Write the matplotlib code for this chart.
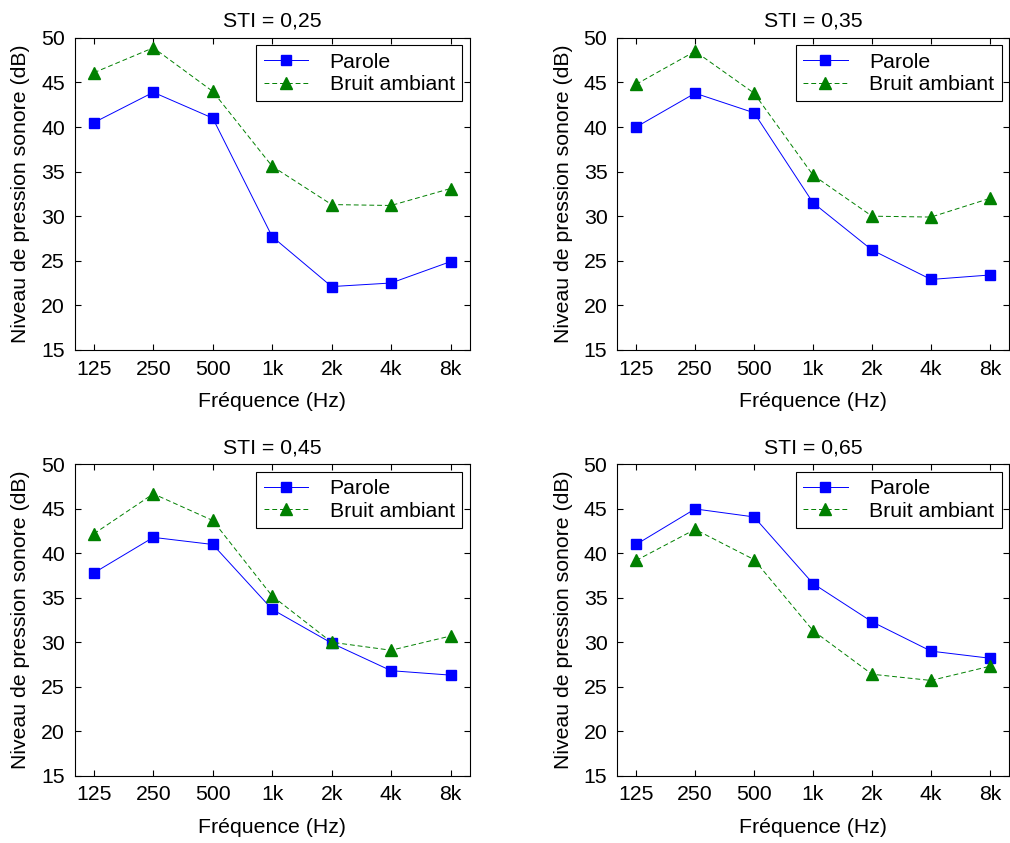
import matplotlib
matplotlib.use("Agg")
import matplotlib.pyplot as plt

plt.rcParams['font.family'] = ['Liberation Sans', 'DejaVu Sans']

# Données
freqs = [125, 250, 500, 1000, 2000, 4000, 8000]
freq_labels = ['125', '250', '500', '1k', '2k', '4k', '8k']
titles = ['STI = 0,25', 'STI = 0,35', 'STI = 0,45', 'STI = 0,65']

parole_025 = [40.5, 43.9, 41.0, 27.7, 22.1, 22.5, 24.9]
bruit_025 = [46.1, 48.9, 44.0, 35.6, 31.3, 31.2, 33.1]

parole_035 = [40.0, 43.8, 41.6, 31.5, 26.2, 22.9, 23.4]
bruit_035 = [44.8, 48.5, 43.8, 34.6, 30.0, 29.9, 32.0]

parole_045 = [37.8, 41.8, 41.0, 33.7, 29.9, 26.8, 26.3]
bruit_045 = [42.2, 46.7, 43.7, 35.2, 30.0, 29.1, 30.7]

parole_065 = [41.0, 45.0, 44.1, 36.6, 32.3, 29.0, 28.2]
bruit_065 = [39.2, 42.7, 39.3, 31.3, 26.4, 25.7, 27.3]

paroles = [parole_025, parole_035, parole_045, parole_065]
bruits = [bruit_025, bruit_035, bruit_045, bruit_065]

fig = plt.figure(figsize=(10.1, 8.43), dpi=100)

# positions des axes [gauche, bas, largeur, hauteur]
positions = [
    [0.074, 0.585, 0.391, 0.370],
    [0.611, 0.585, 0.388, 0.370],
    [0.074, 0.080, 0.391, 0.369],
    [0.611, 0.080, 0.388, 0.369],
]

fs = 15.3

for pos, titre, p, b in zip(positions, titles, paroles, bruits):
    ax = fig.add_axes(pos)
    ax.plot(freqs, p, '-s', color='blue', lw=0.7, markersize=7.8,
            markeredgecolor='blue', label='Parole')
    ax.plot(freqs, b, '--^', color='green', lw=0.7, markersize=8.8,
            markeredgecolor='green', dashes=(5, 3), label='Bruit ambiant')
    ax.set_xscale('log')
    ax.set_xlim(100, 10000)
    ax.set_ylim(15, 50)
    ax.set_xticks(freqs)
    ax.set_xticklabels(freq_labels)
    ax.minorticks_off()
    ax.set_yticks(range(15, 51, 5))
    ax.tick_params(direction='in', top=True, right=True, length=4,
                   labelsize=fs, pad=7)
    ax.set_title(titre, fontsize=fs, pad=8)
    ax.set_xlabel('Fréquence (Hz)', fontsize=fs, labelpad=10)
    ax.set_ylabel('Niveau de pression sonore (dB)', fontsize=fs, labelpad=8)
    leg = ax.legend(loc='upper right', fontsize=fs, fancybox=False,
                    edgecolor='black', framealpha=1, borderaxespad=0.35,
                    handlelength=2.1, handletextpad=1.0, borderpad=0.35,
                    labelspacing=0.15)
    leg.get_frame().set_linewidth(0.8)

fig.savefig('out.png', dpi=100)
